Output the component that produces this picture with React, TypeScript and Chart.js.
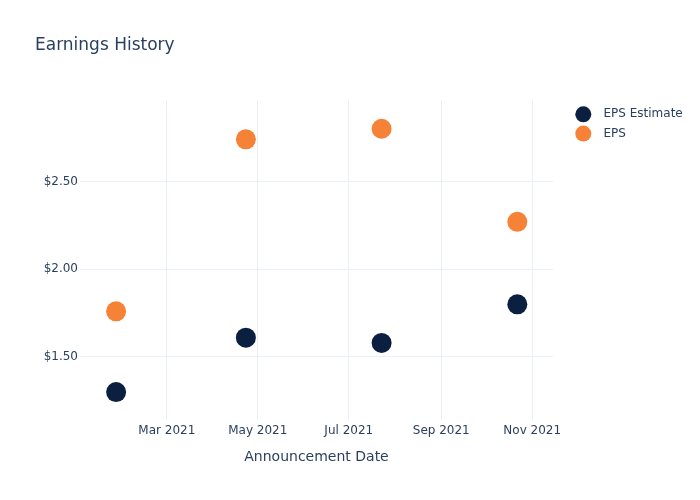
import React, { useEffect, useRef } from "react";
import { Chart, registerables } from "chart.js";

Chart.register(...registerables);

const chartTitle = "Earnings History";
const xAxisTitle = "Announcement Date";
const seriesNames = ["EPS Estimate", "EPS"];
const announcementDates = ["2021-01-26", "2021-04-23", "2021-07-23", "2021-10-22"];
const epsEstimate = [1.30, 1.61, 1.58, 1.80];
const epsActual = [1.76, 2.74, 2.80, 2.27];
const xTickDates = ["2021-03-01", "2021-05-01", "2021-07-01", "2021-09-01", "2021-11-01"];
const xTickLabels = ["Mar 2021", "May 2021", "Jul 2021", "Sep 2021", "Nov 2021"];
const yTickValues = [1.5, 2.0, 2.5];
const xRange = ["2021-01-01T19:00:00Z", "2021-11-14T22:00:00Z"];
const yRange = [1.141, 2.964];

const seriesColors = ["#0b1f41", "#f58236"];
const textColor = "#2a3f5f";
const gridColor = "#ebf0f8";
const FONT = "'DejaVu Sans', sans-serif";

const toTs = (s: string) => new Date(s.length === 10 ? s + "T00:00:00Z" : s).getTime();

const legendAndTitle = {
  id: "legendAndTitle",
  afterDraw(chart: any) {
    const ctx = chart.ctx;
    ctx.save();
    ctx.fillStyle = textColor;
    ctx.font = `17px ${FONT}`;
    ctx.textAlign = "left";
    ctx.textBaseline = "alphabetic";
    ctx.fillText(chartTitle, 35, 50);
    chart.data.datasets.forEach((ds: any, i: number) => {
      const cy = 114.3 + i * 19.3;
      ctx.beginPath();
      ctx.arc(583.3, cy, 8, 0, Math.PI * 2);
      ctx.fillStyle = ds.backgroundColor;
      ctx.fill();
      ctx.fillStyle = textColor;
      ctx.font = `12px ${FONT}`;
      ctx.textBaseline = "middle";
      ctx.fillText(ds.label, 603.5, cy);
    });
    ctx.restore();
  },
};

export default function App() {
  const ref = useRef<HTMLCanvasElement>(null);
  useEffect(() => {
    document.body.style.margin = "0";
    Chart.defaults.font.family = FONT;
    Chart.defaults.color = textColor;
    const mk = (vals: number[]) => announcementDates.map((d, i) => ({ x: toTs(d), y: vals[i] }));
    const chart = new Chart(ref.current as HTMLCanvasElement, {
      type: "scatter",
      data: {
        datasets: [
          {
            label: seriesNames[0],
            data: mk(epsEstimate),
            backgroundColor: seriesColors[0],
            borderColor: seriesColors[0],
            borderWidth: 0,
            pointRadius: 10,
            pointHoverRadius: 10,
          },
          {
            label: seriesNames[1],
            data: mk(epsActual),
            backgroundColor: seriesColors[1],
            borderColor: seriesColors[1],
            borderWidth: 0,
            pointRadius: 10,
            pointHoverRadius: 10,
          },
        ],
      },
      options: {
        animation: false,
        responsive: false,
        devicePixelRatio: 1,
        layout: { padding: { top: 100, right: 147, left: 0, bottom: 0 } },
        plugins: { legend: { display: false }, tooltip: { enabled: false }, title: { display: false } },
        scales: {
          x: {
            type: "linear",
            min: toTs(xRange[0]),
            max: toTs(xRange[1]),
            afterFit: (s: any) => { s.height = 80; },
            afterBuildTicks: (s: any) => { s.ticks = xTickDates.map((d) => ({ value: toTs(d) })); },
            ticks: {
              padding: 4,
              font: { size: 12 },
              color: textColor,
              maxRotation: 0,
              autoSkip: false,
              callback: (v: any) => {
                const i = xTickDates.findIndex((d) => toTs(d) === v);
                return i >= 0 ? xTickLabels[i] : "";
              },
            },
            grid: { color: gridColor, drawTicks: false, lineWidth: 1 },
            border: { display: false },
            title: { display: true, text: xAxisTitle, font: { size: 14 }, color: textColor, padding: { top: 0, bottom: 34 } },
          },
          y: {
            type: "linear",
            min: yRange[0],
            max: yRange[1],
            afterFit: (s: any) => { s.width = 80; },
            afterBuildTicks: (s: any) => { s.ticks = yTickValues.map((v) => ({ value: v })); },
            ticks: {
              padding: 2,
              font: { size: 12 },
              color: textColor,
              callback: (v: any) => "$" + Number(v).toFixed(2),
            },
            grid: { color: gridColor, drawTicks: false, lineWidth: 1 },
            border: { display: false },
          },
        },
      },
      plugins: [legendAndTitle],
    } as any);
    return () => chart.destroy();
  }, []);
  return <canvas ref={ref} width={700} height={500} style={{ display: "block" }} />;
}
